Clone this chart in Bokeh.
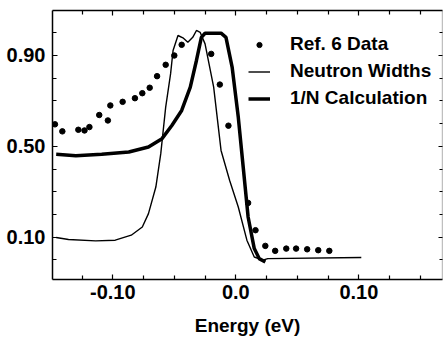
from bokeh.plotting import figure
from bokeh.models import LinearAxis, FixedTicker, Legend, LegendItem, Range1d
from bokeh.embed import file_html
from bokeh.resources import INLINE

# Ref. 6 data points
dots_x = [-0.147, -0.141, -0.128, -0.123, -0.119, -0.111, -0.104, -0.102, -0.092, -0.082,
          -0.076, -0.070, -0.064, -0.057, -0.050, -0.044, -0.020, -0.013, -0.006, 0.010,
          0.016, 0.024, 0.032, 0.041, 0.049, 0.058, 0.067, 0.076]
dots_y = [0.597, 0.566, 0.573, 0.570, 0.585, 0.638, 0.614, 0.680, 0.696, 0.712,
          0.734, 0.758, 0.809, 0.859, 0.900, 0.947, 0.907, 0.772, 0.591, 0.251,
          0.131, 0.062, 0.040, 0.050, 0.050, 0.047, 0.043, 0.040]

# Neutron widths (thin line)
nw_x = [-0.146, -0.136, -0.114, -0.098, -0.085, -0.076, -0.071, -0.065, -0.061, -0.057,
        -0.053, -0.051, -0.047, -0.043, -0.039, -0.035, -0.032, -0.029, -0.025, -0.018,
        -0.012, -0.005, 0.002, 0.009, 0.015, 0.022, 0.026, 0.102]
nw_y = [0.099, 0.090, 0.084, 0.087, 0.109, 0.145, 0.204, 0.321, 0.468, 0.673,
        0.820, 0.922, 0.988, 0.978, 0.958, 0.980, 1.010, 1.002, 0.951, 0.761,
        0.482, 0.350, 0.233, 0.087, 0.013, -0.001, 0.006, 0.011]

# 1/N calculation (thick line)
calc_x = [-0.146, -0.130, -0.109, -0.087, -0.071, -0.060, -0.052, -0.044, -0.037, -0.032,
          -0.028, -0.025, -0.012, -0.008, -0.003, 0.002, 0.006, 0.010, 0.015, 0.019, 0.024]
calc_y = [0.465, 0.459, 0.465, 0.475, 0.497, 0.534, 0.592, 0.658, 0.761, 0.878,
          0.980, 0.998, 0.998, 0.980, 0.849, 0.629, 0.409, 0.189, 0.050, 0.006, -0.009]

x_label_ticks = [-0.10, 0.0, 0.10]
x_label_text = ["-0.10", "0.0", "0.10"]
x_minor = [-0.125, -0.075, -0.05, -0.025, 0.025, 0.05, 0.075, 0.125, 0.15]
y_label_ticks = [0.10, 0.50, 0.90]
y_label_text = ["0.10", "0.50", "0.90"]
y_minor = [0.0, 0.2, 0.3, 0.4, 0.6, 0.7, 0.8, 1.0]

FONT = "Liberation Sans"

p = figure(frame_width=390, frame_height=269, output_backend="svg", toolbar_location=None,
           x_range=Range1d(-0.149, 0.168), y_range=Range1d(-0.086, 1.098),
           x_axis_location=None, y_axis_location=None,
           min_border_left=52, min_border_top=10, min_border_right=1, min_border_bottom=0)
p.outline_line_color = None
p.background_fill_color = "white"
p.border_fill_color = "white"

def style(ax, labels=True):
    ax.major_tick_in = 5
    ax.major_tick_out = 0
    ax.minor_tick_in = 4
    ax.minor_tick_out = 0
    ax.axis_line_width = 1.5
    ax.axis_line_color = "black"
    ax.major_tick_line_color = "black"
    ax.minor_tick_line_color = "black"
    ax.major_tick_line_width = 1.2
    ax.minor_tick_line_width = 1.2
    ax.major_label_text_font = FONT
    ax.major_label_text_font_style = "bold"
    ax.major_label_text_font_size = "20px" if labels else "1px"
    ax.major_label_text_color = "black"
    ax.major_label_standoff = 0 if not labels else 5
    ax.axis_label_text_font = FONT
    ax.axis_label_text_font_style = "bold"
    ax.axis_label_text_font_size = "19px"
    ax.axis_label_text_color = "black"

bx = LinearAxis(ticker=FixedTicker(ticks=x_label_ticks, minor_ticks=x_minor),
                axis_label="Energy (eV)")
style(bx)
bx.major_label_overrides = {t: s for t, s in zip(x_label_ticks, x_label_text)}
bx.major_label_standoff = 5
bx.axis_label_standoff = 13
p.add_layout(bx, "below")

ly = LinearAxis(ticker=FixedTicker(ticks=y_label_ticks, minor_ticks=y_minor))
style(ly)
ly.major_label_overrides = {t: s for t, s in zip(y_label_ticks, y_label_text)}
ly.major_label_standoff = 7
p.add_layout(ly, "left")

tx = LinearAxis(ticker=FixedTicker(ticks=x_label_ticks, minor_ticks=x_minor))
style(tx, labels=False)
tx.major_label_overrides = {t: "" for t in x_label_ticks}
p.add_layout(tx, "above")

ry = LinearAxis(ticker=FixedTicker(ticks=y_label_ticks, minor_ticks=y_minor))
style(ry, labels=False)
ry.major_label_overrides = {t: "" for t in y_label_ticks}
ry.axis_line_alpha = 0.25
ry.major_tick_in = 4
ry.minor_tick_in = 3
p.add_layout(ry, "right")

p.xgrid.visible = False
p.ygrid.visible = False

r_dots = p.scatter(dots_x, dots_y, size=5.5, color="black")
r_nw = p.line(nw_x, nw_y, line_width=1.4, color="black")
r_calc = p.line(calc_x, calc_y, line_width=3.5, color="black")

legend = Legend(items=[LegendItem(label="Ref. 6 Data", renderers=[r_dots]),
                       LegendItem(label="Neutron Widths", renderers=[r_nw]),
                       LegendItem(label="1/N Calculation", renderers=[r_calc])],
                location=(196, 170), border_line_color=None, background_fill_alpha=0,
                padding=0, margin=0, spacing=5, label_height=22, glyph_width=22,
                glyph_height=13, label_standoff=20,
                label_text_font=FONT, label_text_font_style="bold",
                label_text_font_size="19px", label_text_color="black")
p.add_layout(legend, "center")

open("out.html", "w").write(file_html(p, INLINE))
